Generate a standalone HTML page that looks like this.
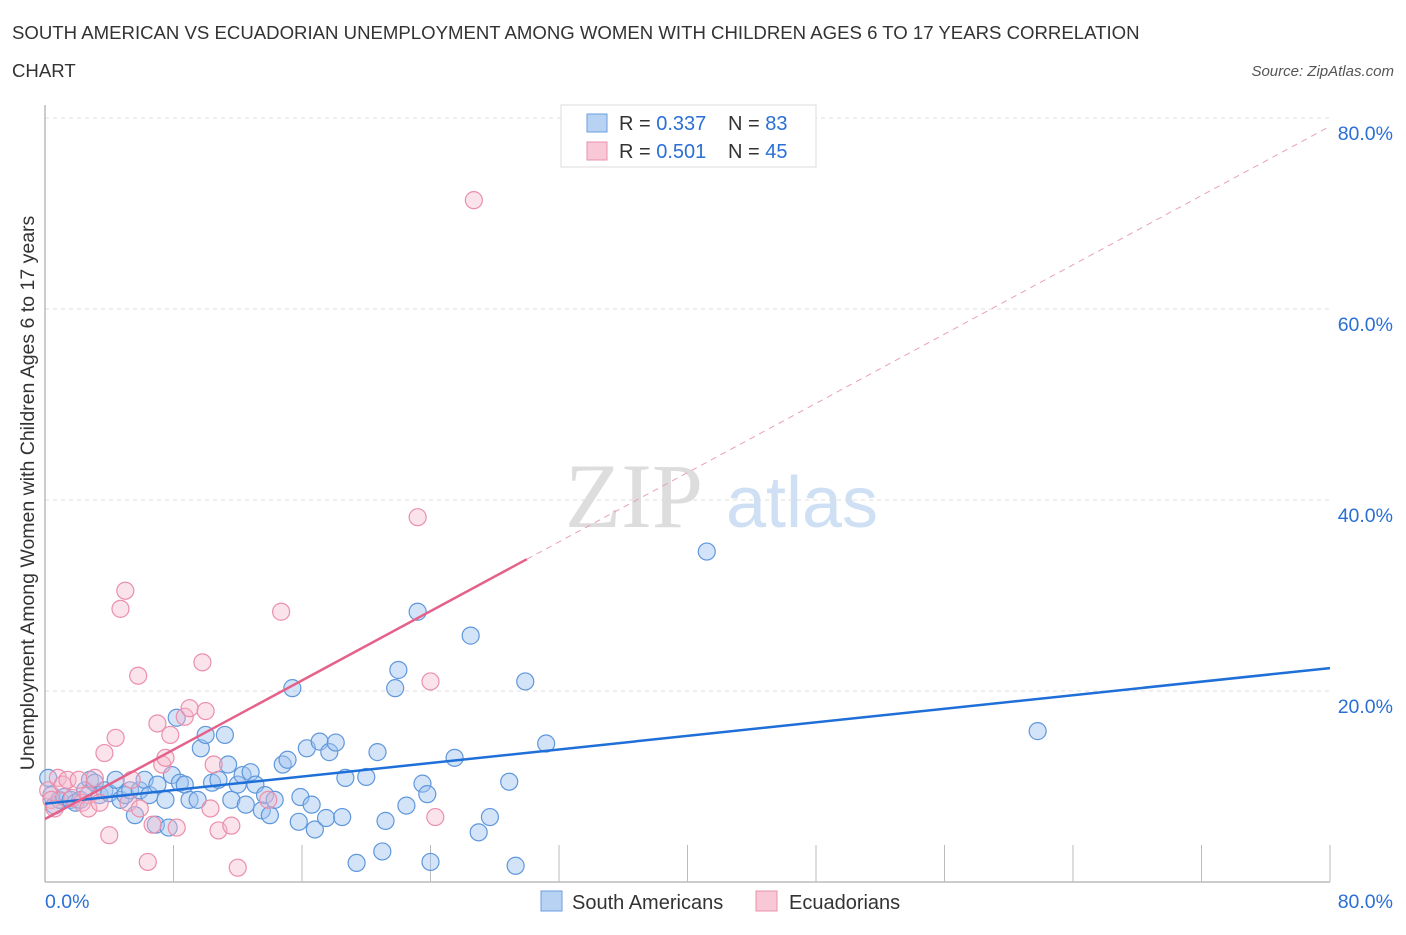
<!DOCTYPE html>
<html><head><meta charset="utf-8"><style>
body{margin:0;background:#fff;font-family:"Liberation Sans",sans-serif;}
</style></head><body>
<svg width="1406" height="930" xmlns="http://www.w3.org/2000/svg" font-family="Liberation Sans, sans-serif">
<text x="12" y="39" font-size="18.6" fill="#333">SOUTH AMERICAN VS ECUADORIAN UNEMPLOYMENT AMONG WOMEN WITH CHILDREN AGES 6 TO 17 YEARS CORRELATION</text>
<text x="12" y="77" font-size="18.6" fill="#333">CHART</text>
<text x="1394" y="76" font-size="15" fill="#555" font-style="italic" text-anchor="end">Source: ZipAtlas.com</text>
<g>
<text x="634" y="527" font-size="92" fill="#ddd" font-family="Liberation Serif, serif" text-anchor="middle">ZIP</text>
<text x="802" y="527" font-size="72" fill="#cfe0f4" text-anchor="middle">atlas</text>
</g>
<g id="grid"></g>
<g id="axes"></g>
<g id="pts"></g>
<g id="lines"></g>
<text x="34" y="493" font-size="19.5" fill="#333" text-anchor="middle" transform="rotate(-90 34 493)">Unemployment Among Women with Children Ages 6 to 17 years</text>
<g>
<rect x="561" y="105" width="255" height="62" fill="#fff" stroke="#ddd"/>
<rect x="587" y="114" width="20" height="18" fill="#b8d2f4" stroke="#6b9ee0"/>
<rect x="587" y="142" width="20" height="18" fill="#f8c8d6" stroke="#e890ab"/>
<text x="619" y="130" font-size="20" fill="#333">R = <tspan fill="#2a6fd6">0.337</tspan></text>
<text x="728" y="130" font-size="20" fill="#333">N = <tspan fill="#2a6fd6">83</tspan></text>
<text x="619" y="158" font-size="20" fill="#333">R = <tspan fill="#2a6fd6">0.501</tspan></text>
<text x="728" y="158" font-size="20" fill="#333">N = <tspan fill="#2a6fd6">45</tspan></text>
</g>
<g>
<rect x="541" y="891" width="21" height="20" fill="#b8d2f4" stroke="#6b9ee0"/>
<text x="572" y="909" font-size="20" fill="#333">South Americans</text>
<rect x="756" y="891" width="21" height="20" fill="#f8c8d6" stroke="#e890ab"/>
<text x="789" y="909" font-size="20" fill="#333">Ecuadorians</text>
</g>
</svg>
<script>
const xTicks=[0,80];
const yTicks=[20,40,60,80];
const blueX=[0.2,0.4,0.6,0.9,1.2,1.6,1.9,2.2,2.5,2.8,3.1,3.4,3.7,4.0,4.4,4.7,5.0,5.3,5.6,5.9,6.2,6.5,6.9,7.0,7.5,7.7,7.9,8.2,8.4,8.7,9.0,9.5,9.7,10.0,10.4,10.8,11.2,11.4,11.6,12.0,12.3,12.5,12.8,13.1,13.5,13.7,14.0,14.3,14.8,15.1,15.4,15.8,15.9,16.3,16.6,16.8,17.1,17.5,17.7,18.1,18.5,18.7,19.4,20.0,20.7,21.0,21.2,21.8,22.0,22.5,23.2,23.5,23.8,24.0,25.5,26.5,27.0,27.7,28.9,29.3,29.9,31.2,41.2,61.8];
const blueY=[10.9,9.1,8.0,8.6,8.9,8.6,8.3,8.6,9.6,10.7,10.4,9.1,9.6,9.3,10.7,8.6,9.1,9.6,7.0,9.6,10.7,9.1,6.0,10.2,8.6,5.7,11.2,17.2,10.4,10.2,8.6,8.6,14.0,15.4,10.4,10.7,15.4,12.3,8.6,10.2,11.2,8.1,11.5,10.2,7.5,9.1,7.0,8.6,12.3,12.8,20.3,6.3,8.9,14.0,8.1,5.5,14.7,6.7,13.6,14.6,6.8,10.9,2.0,11.0,13.6,3.2,6.4,20.3,22.2,8.0,28.3,10.3,9.2,2.1,13.0,25.8,5.2,6.8,10.5,1.7,21.0,14.5,34.6,15.8];
const pinkX=[0.2,0.4,0.6,0.8,1.1,1.4,1.7,2.1,2.3,2.7,2.7,3.1,3.4,3.7,4.0,4.4,4.7,5.0,5.2,5.4,5.8,5.9,6.4,6.7,7.0,7.3,7.5,7.8,8.2,8.7,9.0,9.8,10.0,10.3,10.5,10.8,11.6,12.0,13.9,14.7,23.2,24.0,24.3,26.7];
const pinkY=[9.6,8.6,7.7,10.9,10.2,10.7,8.8,10.7,8.3,9.1,7.7,10.9,8.3,13.5,4.9,15.1,28.6,30.5,8.3,10.7,21.6,7.7,2.1,6.0,16.6,12.3,13.0,15.4,5.7,17.3,18.2,23.0,17.9,7.7,12.3,5.4,5.9,1.5,8.6,28.3,38.2,21.0,6.8,71.4];
const blueFit=[8.2,22.4];
const pinkFit=[6.6,33.8];
const pinkFitEnd=30;
const X=v=>45+v/80*1285, Y=v=>882-v*9.55;
const NS='http://www.w3.org/2000/svg';
function mk(tag,attrs,parent){const e=document.createElementNS(NS,tag);for(const k in attrs)e.setAttribute(k,attrs[k]);document.getElementById(parent).appendChild(e);return e;}
yTicks.forEach(t=>{
 const l=mk('line',{x1:45,x2:1330,y1:Y(t),y2:Y(t),stroke:'#ddd','stroke-dasharray':'4,4'},'grid');
 
 
 const tx=mk('text',{x:1393,y:Y(t)+22,'font-size':19.5,fill:'#2a6fd6','text-anchor':'end'},'grid');
 tx.textContent=t.toFixed(1)+'%';
 
 
});
const ax=mk('line',{x1:45,x2:45,y1:105,y2:882,stroke:'#999'},'axes');


const bx=mk('line',{x1:45,x2:1330,y1:882,y2:882,stroke:'#999'},'axes');


for(let i=1;i<=10;i++){
 const t=mk('line',{x1:X(i*8),x2:X(i*8),y1:845,y2:882,stroke:'#bbb'},'axes');
 
 
}
xTicks.forEach((t,i)=>{
 const tx=mk('text',{x:i?1393:45,y:908,'font-size':19.5,fill:'#2a6fd6','text-anchor':i?'end':'start'},'axes');
 tx.textContent=t.toFixed(1)+'%';
 
 
});
blueX.forEach((x,i)=>{
 const c=mk('circle',{cx:X(x),cy:Y(blueY[i]),r:8.5,fill:'rgba(160,195,240,0.45)',stroke:'#5f97dc','stroke-width':1.2},'pts');
 
 
});
pinkX.forEach((x,i)=>{
 const c=mk('circle',{cx:X(x),cy:Y(pinkY[i]),r:8.5,fill:'rgba(246,185,205,0.4)',stroke:'#eb8fab','stroke-width':1.2},'pts');
 
 
});
const pslope=(pinkFit[1]-pinkFit[0])/pinkFitEnd;
const bl=mk('line',{x1:X(0),y1:Y(blueFit[0]),x2:X(80),y2:Y(blueFit[1]),stroke:'#1f6fd8','stroke-width':2.5},'lines');


const pl=mk('line',{x1:X(0),y1:Y(pinkFit[0]),x2:X(pinkFitEnd),y2:Y(pinkFit[1]),stroke:'#e5618a','stroke-width':2.5},'lines');


const pd=mk('line',{x1:X(pinkFitEnd),y1:Y(pinkFit[1]),x2:X(80),y2:Y(pinkFit[0]+pslope*80),stroke:'#e8a0b6','stroke-width':1,'stroke-dasharray':'6,5'},'lines');


</script>
</body></html>
